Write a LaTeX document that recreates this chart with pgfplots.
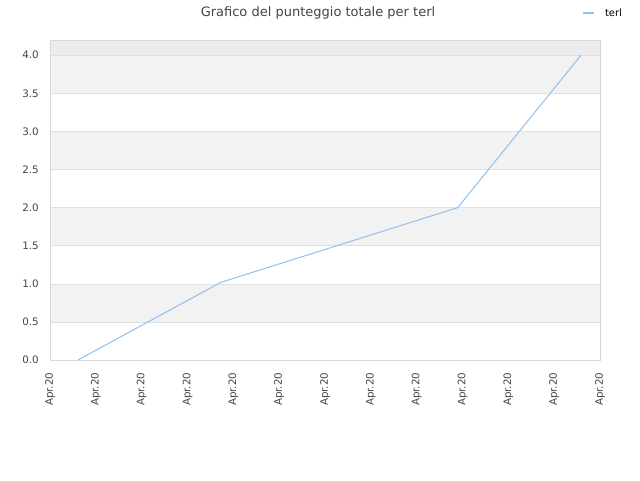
\documentclass[border=0pt]{standalone}
\usepackage{fontspec}
\setmainfont{DejaVu Sans}
\usepackage{pgfplots}
\pgfplotsset{compat=1.18}
\definecolor{linec}{RGB}{145,192,240}
\definecolor{bandc}{RGB}{242,242,242}
\definecolor{topc}{RGB}{236,236,236}
\definecolor{gridc}{RGB}{224,224,224}
\definecolor{bordc}{RGB}{216,216,216}
\definecolor{txtc}{RGB}{68,68,68}
\begin{document}
\begin{tikzpicture}
\path (0pt,0pt) rectangle (640pt,480pt);
\node[text=txtc, font=\fontsize{13}{15}\selectfont] at (318pt,467.5pt) {Grafico del punteggio totale per terl};
\begin{axis}[
    set layers=standard,
    at={(50pt,120pt)}, anchor=south west,
    width=550pt, height=320pt, scale only axis,
    xmin=0, xmax=12, ymin=0, ymax=4.2,
    xtick={0,...,12},
    xticklabels={Apr.20,Apr.20,Apr.20,Apr.20,Apr.20,Apr.20,Apr.20,Apr.20,Apr.20,Apr.20,Apr.20,Apr.20,Apr.20},
    ytick={0,0.5,...,4},
    /pgf/number format/assume math mode=true,
    yticklabel style={/pgf/number format/fixed, /pgf/number format/fixed zerofill, /pgf/number format/precision=1},
    tick label style={text=txtc, font=\fontsize{10.3}{12}\selectfont, inner sep=0pt},
    x tick label style={rotate=90, anchor=east},
    xticklabel shift=12.5pt,
    yticklabel shift=11pt,
    major tick length=0pt,
    tick style={draw=none},
    axis line style={draw=bordc},
    ymajorgrids, grid style={draw=gridc, line width=0.6pt},
    legend style={at={(0.9673,1.084)}, anchor=west, draw=none, fill=none, inner sep=0pt,
        column sep=8pt,
        font=\fontsize{10}{12}\selectfont, legend cell align=left},
    legend image code/.code={\draw[#1, line width=1.8pt] (0pt,0pt) -- (11pt,0pt);},
]
\begin{pgfonlayer}{axis background}
\fill[bandc] (0,0.5) rectangle (12,1.0);
\fill[bandc] (0,1.5) rectangle (12,2.0);
\fill[bandc] (0,2.5) rectangle (12,3.0);
\fill[bandc] (0,3.5) rectangle (12,4.0);
\fill[topc] (0,4.0) rectangle (12,4.2);
\end{pgfonlayer}
\addplot[color=linec, line width=1pt] coordinates {
    (0.61,0) (3.73,1.02) (8.895,2.0) (11.585,4.0)
};
\addlegendentry{terl}
\end{axis}
\end{tikzpicture}
\end{document}
